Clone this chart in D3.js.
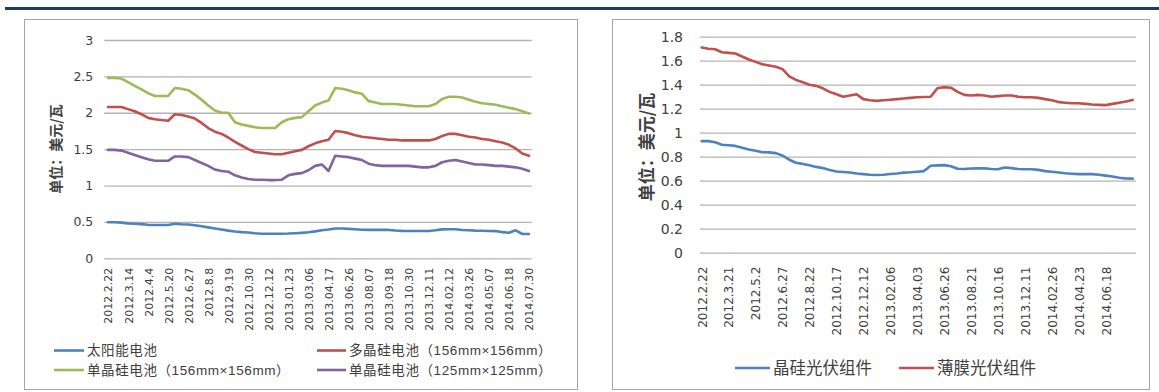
<!DOCTYPE html>
<html>
<head>
<meta charset="utf-8">
<script src="https://cdn.jsdelivr.net/npm/d3@7"></script>
<style>
  html, body { margin: 0; padding: 0; background: #fff; }
  svg { display: block; }
  .num { font-family: "DejaVu Sans", "Liberation Sans", sans-serif; fill: #404040; }
  .cjk { font-family: "Noto Sans CJK SC", sans-serif; fill: #404040; }
  .leg { font-family: "Liberation Sans", "Noto Sans CJK SC", sans-serif; fill: #404040; }
</style>
</head>
<body>
<svg id="chart" width="1159" height="392"></svg>
<script>
// ---- Left panel: cell prices (USD / W), biweekly quotes ----
const leftTickLabels = ["2012.2.22","2012.3.14","2012.4.4","2012.5.20","2012.6.27","2012.8.8","2012.9.19",
  "2012.10.30","2012.12.12","2013.01.23","2013.03.06","2013.04.17","2013.06.26","2013.08.07","2013.09.18",
  "2013.10.30","2013.12.11","2014.02.12","2014.03.26","2014.05.07","2014.06.18","2014.07.30"];
const leftYTicks = [0, 0.5, 1, 1.5, 2, 2.5, 3];

const solarCell = [0.495,0.495,0.49,0.48,0.475,0.47,0.46,0.457,0.457,0.457,0.475,0.468,0.465,0.455,0.44,0.425,
  0.41,0.395,0.38,0.368,0.36,0.355,0.345,0.338,0.338,0.338,0.338,0.34,0.345,0.35,0.357,0.37,0.385,0.395,
  0.41,0.41,0.405,0.4,0.392,0.39,0.39,0.39,0.39,0.382,0.377,0.375,0.375,0.375,0.375,0.385,0.398,0.40,0.40,
  0.388,0.385,0.38,0.378,0.376,0.374,0.36,0.35,0.385,0.334,0.334];
const multiSi156 = [2.08,2.08,2.08,2.05,2.02,1.98,1.93,1.91,1.90,1.89,1.98,1.97,1.95,1.92,1.86,1.79,1.74,1.71,
  1.66,1.60,1.55,1.50,1.46,1.45,1.44,1.43,1.43,1.45,1.47,1.49,1.54,1.58,1.61,1.63,1.75,1.74,1.72,1.69,1.67,
  1.66,1.65,1.64,1.63,1.63,1.62,1.62,1.62,1.62,1.62,1.64,1.68,1.71,1.71,1.69,1.67,1.66,1.64,1.63,1.61,1.59,
  1.56,1.51,1.44,1.41];
const monoSi156 = [2.48,2.48,2.47,2.42,2.37,2.32,2.27,2.23,2.23,2.23,2.34,2.33,2.31,2.25,2.18,2.10,2.03,2.00,
  2.00,1.87,1.84,1.82,1.80,1.79,1.79,1.79,1.87,1.91,1.93,1.94,2.02,2.10,2.14,2.17,2.34,2.33,2.31,2.28,2.26,
  2.16,2.14,2.12,2.12,2.12,2.11,2.10,2.09,2.09,2.09,2.12,2.19,2.22,2.22,2.21,2.18,2.15,2.13,2.12,2.11,2.09,
  2.07,2.05,2.02,1.99];
const monoSi125 = [1.49,1.49,1.48,1.45,1.42,1.39,1.36,1.34,1.34,1.34,1.40,1.40,1.39,1.35,1.31,1.27,1.22,1.20,
  1.19,1.14,1.11,1.09,1.08,1.08,1.075,1.075,1.08,1.14,1.16,1.17,1.21,1.27,1.29,1.20,1.41,1.40,1.39,1.37,1.35,
  1.30,1.28,1.27,1.27,1.27,1.27,1.27,1.26,1.25,1.25,1.27,1.32,1.34,1.35,1.33,1.31,1.29,1.29,1.28,1.27,1.27,
  1.26,1.25,1.23,1.20];

// ---- Right panel: module prices (USD / W) ----
const rightTickLabels = ["2012.2.22","2012.3.21","2012.5.2","2012.6.27","2012.8.22","2012.10.17","2012.12.12",
  "2013.02.06","2013.04.03","2013.06.26","2013.08.21","2013.10.16","2013.12.11","2014.02.26","2014.04.23","2014.06.18"];
const rightYTicks = [0, 0.2, 0.4, 0.6, 0.8, 1, 1.2, 1.4, 1.6, 1.8];

const crystallineModule = [0.93,0.93,0.92,0.90,0.895,0.89,0.875,0.86,0.85,0.837,0.836,0.83,0.81,0.775,0.75,0.74,
  0.728,0.715,0.705,0.69,0.677,0.673,0.668,0.66,0.655,0.65,0.648,0.65,0.656,0.66,0.667,0.67,0.675,0.68,0.725,
  0.728,0.73,0.72,0.70,0.697,0.702,0.703,0.703,0.698,0.695,0.71,0.705,0.697,0.695,0.695,0.69,0.68,0.675,0.668,
  0.662,0.658,0.655,0.655,0.655,0.65,0.642,0.635,0.625,0.618,0.617];
const thinFilmModule = [1.71,1.70,1.695,1.67,1.665,1.66,1.635,1.61,1.59,1.57,1.56,1.55,1.53,1.47,1.44,1.42,1.40,
  1.39,1.37,1.34,1.32,1.30,1.31,1.32,1.28,1.27,1.265,1.27,1.275,1.28,1.285,1.29,1.295,1.297,1.30,1.37,1.38,
  1.375,1.34,1.315,1.31,1.315,1.31,1.30,1.305,1.31,1.31,1.30,1.295,1.295,1.29,1.28,1.27,1.255,1.25,1.245,1.245,
  1.24,1.235,1.232,1.23,1.24,1.25,1.26,1.273];

const leftSeries = [
  { name: "太阳能电池", values: solarCell, color: "#4F81BD" },
  { name: "多晶硅电池（156mm×156mm）", values: multiSi156, color: "#C0504D" },
  { name: "单晶硅电池（156mm×156mm）", values: monoSi156, color: "#9BBB59" },
  { name: "单晶硅电池（125mm×125mm）", values: monoSi125, color: "#8064A2" }
];
const rightSeries = [
  { name: "晶硅光伏组件", values: crystallineModule, color: "#4F81BD" },
  { name: "薄膜光伏组件", values: thinFilmModule, color: "#C0504D" }
];

const svg = d3.select("#chart");

// header rule
svg.append("rect").attr("x", 5).attr("y", 7).attr("width", 1154).attr("height", 3).attr("fill", "#1F3B66");

// panel frames
function frame(x0, y0, x1, y1) {
  svg.append("rect").attr("x", x0 + 0.5).attr("y", y0 + 0.5)
    .attr("width", x1 - x0).attr("height", y1 - y0)
    .attr("fill", "none").attr("stroke", "#a6a6a6").attr("stroke-width", 1);
}
frame(24, 19, 577, 389);
frame(612, 19, 1149, 389);

function panel(opt) {
  const n = opt.series[0].values.length;
  const x = d3.scaleLinear().domain([0, n - 1]).range([opt.x0, opt.x1]);
  const y = d3.scaleLinear().domain([0, opt.yMax]).range([opt.yBottom, opt.yTop]);

  // y axis with gridlines
  const gy = svg.append("g").attr("transform", `translate(${opt.gridL},0)`)
    .call(d3.axisLeft(y).tickValues(opt.yTicks).tickFormat(d3.format("~g"))
      .tickSize(-(opt.gridR - opt.gridL)).tickPadding(opt.yPad));
  gy.select(".domain").remove();
  gy.selectAll(".tick line").attr("stroke", "#b3b3b3").attr("stroke-width", 1.3);
  gy.selectAll(".tick text").attr("class", "num").style("font-size", opt.yFont + "px")
    .attr("fill", "#404040");

  // x axis with vertical date labels
  const tickIdx = opt.tickLabels.map((_, i) => i * opt.step);
  const gx = svg.append("g").attr("transform", `translate(0,${opt.yBottom})`)
    .call(d3.axisBottom(x).tickValues(tickIdx).tickFormat((d) => opt.tickLabels[d / opt.step]).tickSize(0));
  gx.select(".domain").remove();
  gx.selectAll(".tick text").attr("class", "num")
    .style("font-size", opt.xFont + "px").attr("fill", "#404040")
    .attr("transform", "rotate(-90)").attr("text-anchor", "end")
    .attr("x", -opt.xPad).attr("y", 0).attr("dy", "0.36em");

  // series lines
  const line = d3.line().x((d, i) => x(i)).y((d) => y(d));
  opt.series.forEach((s) => {
    svg.append("path").datum(s.values).attr("d", line)
      .attr("fill", "none").attr("stroke", s.color).attr("stroke-width", 2.6)
      .attr("stroke-linejoin", "round").attr("stroke-linecap", "round");
  });

  // unit title
  svg.append("text").attr("class", "cjk")
    .attr("transform", `translate(${opt.titleX},${opt.titleY}) rotate(-90)`)
    .attr("text-anchor", "middle").attr("dy", "0.35em")
    .style("font-size", opt.titleFont + "px").style("font-weight", "bold").attr("fill", "#262626")
    .text("单位：美元/瓦");
}

panel({
  series: leftSeries, tickLabels: leftTickLabels, step: 3, yTicks: leftYTicks, yMax: 3,
  x0: 108, x1: 529, yBottom: 258.3, yTop: 40, gridL: 104.3, gridR: 531.7,
  yPad: 11, yFont: 12.5, xPad: 9.5, xFont: 11, titleX: 56, titleY: 149, titleFont: 14
});
panel({
  series: rightSeries, tickLabels: rightTickLabels, step: 4, yTicks: rightYTicks, yMax: 1.8,
  x0: 701.7, x1: 1132.7, yBottom: 252.7, yTop: 36.7, gridL: 700, gridR: 1136,
  yPad: 17, yFont: 14, xPad: 14, xFont: 12, titleX: 647, titleY: 147, titleFont: 17
});

// legends
function legend(items, fontSize, spacing) {
  items.forEach((it) => {
    svg.append("line").attr("x1", it.lx0).attr("x2", it.lx1).attr("y1", it.y).attr("y2", it.y)
      .attr("stroke", it.s.color).attr("stroke-width", 2.6);
    svg.append("text").attr("class", "leg").attr("x", it.lx1 + 3).attr("y", it.y).attr("dy", "0.35em")
      .style("font-size", fontSize + "px").style("letter-spacing", spacing + "px")
      .attr("fill", "#404040").text(it.s.name);
  });
}
legend([
  { s: leftSeries[0], lx0: 54, lx1: 84, y: 350.5 },
  { s: leftSeries[1], lx0: 317, lx1: 346, y: 350.5 },
  { s: leftSeries[2], lx0: 54, lx1: 84, y: 370 },
  { s: leftSeries[3], lx0: 317, lx1: 346, y: 370 }
], 13.5, 0.6);
legend([
  { s: rightSeries[0], lx0: 735, lx1: 770, y: 368 },
  { s: rightSeries[1], lx0: 899, lx1: 934, y: 368 }
], 16.5, 0);
</script>
</body>
</html>
